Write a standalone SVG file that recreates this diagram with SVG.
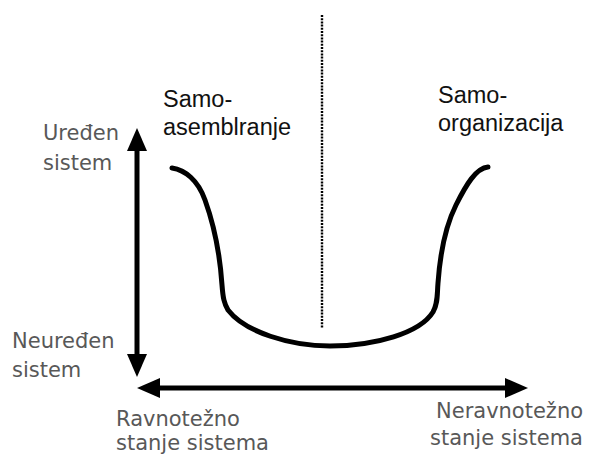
<svg xmlns="http://www.w3.org/2000/svg" width="589" height="455" viewBox="0 0 589 455">
<style>
.axis{stroke:#000;stroke-width:5;fill:none}
.curve{stroke:#000;stroke-width:5;fill:none;stroke-linecap:round;stroke-linejoin:round}
.dot{stroke:#000;stroke-width:2.4;stroke-dasharray:2 1.2;fill:none}
.lab{font-family:"DejaVu Sans","Liberation Sans",sans-serif;font-size:21px;fill:#585858}
.ttl{font-family:"Liberation Sans",Arial,sans-serif;font-size:23.5px;fill:#111}
</style>
<defs>
<marker id="ah" markerUnits="userSpaceOnUse" markerWidth="23" markerHeight="20" refX="9" refY="10" orient="auto-start-reverse">
<path d="M0,0 L23,10 L0,20 Z" fill="#000"/>
</marker>
</defs>
<g id="connectors">
<line class="axis" x1="137" y1="142" x2="137" y2="363" marker-start="url(#ah)" marker-end="url(#ah)"/>
<line class="axis" x1="151" y1="388" x2="514" y2="388" marker-start="url(#ah)" marker-end="url(#ah)"/>
<line class="dot" x1="322" y1="15" x2="322" y2="328"/>
<path class="curve" d="M172,168 C185,170 198,180 205,200 C214,225 220,255 222,285 C223,298 224,303 228,310 C245,332 290,346 330,346 C375,346 420,333 433,312 C438,303 437,295 438,283 C440,255 446,225 456,205 C466,185 476,168 488,167"/>
</g>
<g id="label-ordered">
<text class="lab" x="43" y="140">Uređen</text>
<text class="lab" x="43" y="170">sistem</text>
</g>
<g id="label-disordered">
<text class="lab" x="12" y="348">Neuređen</text>
<text class="lab" x="12" y="377">sistem</text>
</g>
<g id="label-equilibrium">
<text class="lab" x="116" y="426">Ravnotežno</text>
<text class="lab" x="116" y="450">stanje sistema</text>
</g>
<g id="label-nonequilibrium">
<text class="lab" x="436" y="418">Neravnotežno</text>
<text class="lab" x="430" y="445">stanje sistema</text>
</g>
<g id="label-selfassembly">
<text class="ttl" x="163" y="107">Samo-</text>
<text class="ttl" x="163" y="135">asemblranje</text>
</g>
<g id="label-selforganization">
<text class="ttl" x="438" y="103">Samo-</text>
<text class="ttl" x="438" y="131">organizacija</text>
</g>
</svg>
